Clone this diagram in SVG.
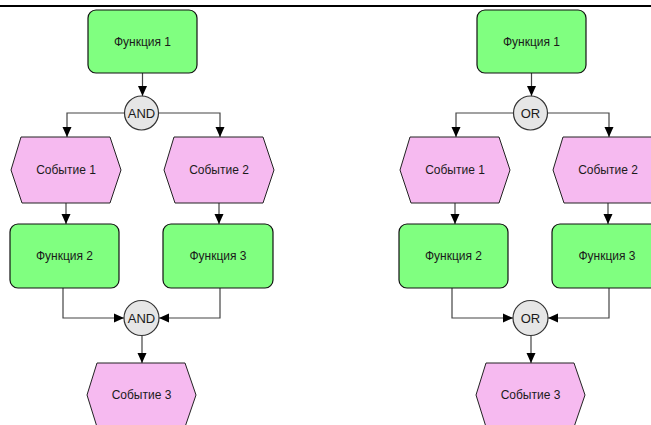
<svg xmlns="http://www.w3.org/2000/svg" width="651" height="425" viewBox="0 0 651 425">
  <style>
    .fn { fill: #80ff80; stroke: #111; stroke-width: 1.2; }
    .ev { fill: #f6baf0; stroke: #222; stroke-width: 1; }
    .gate { fill: #e6e6e6; stroke: #333; stroke-width: 1.2; }
    .lbl { font-family: "Liberation Sans", Arial, sans-serif; font-size: 12px; fill: #1a1a1a; text-anchor: middle; dominant-baseline: central; }
    .gl { font-size: 13px; }
    .cn { fill: none; stroke: #444; stroke-width: 1.2; marker-end: url(#arr); }
  </style>
  <defs>
    <marker id="arr" viewBox="0 0 10 10" refX="10" refY="5" markerWidth="10" markerHeight="10" markerUnits="userSpaceOnUse" orient="auto">
      <path d="M0,0.5 L10,5 L0,9.5 Z" fill="#000"/>
    </marker>
  </defs>
  <rect width="651" height="425" fill="#fff"/>
  <line x1="0" y1="6" x2="651" y2="6" stroke="#000" stroke-width="2"/>

  <!-- AND variant -->
  <g id="and-flow">
    <g id="connectors-and">
      <path class="cn" d="M142.5,73 V96"/>
      <path class="cn" d="M124.5,113 H67 V137"/>
      <path class="cn" d="M158.5,113 H220 V137"/>
      <path class="cn" d="M66,203 V224"/>
      <path class="cn" d="M219,203 V224"/>
      <path class="cn" d="M63,288 V318 H124"/>
      <path class="cn" d="M220,288 V318 H159"/>
      <path class="cn" d="M142,335.5 V363"/>
    </g>
    <g id="and-f1"><rect class="fn" x="88" y="10" width="109" height="63" rx="8"/><text class="lbl" x="142.5" y="42">Функция 1</text></g>
    <g id="and-split"><circle class="gate" cx="141.5" cy="113" r="17"/><text class="lbl gl" x="141.5" y="113">AND</text></g>
    <g id="and-e1"><polygon class="ev" points="21,137 110,137 121,170 110,203 22,203 11,170"/><text class="lbl" x="66" y="170">Событие 1</text></g>
    <g id="and-e2"><polygon class="ev" points="174,137 263,137 274,170 263,203 175,203 164,170"/><text class="lbl" x="219" y="170">Событие 2</text></g>
    <g id="and-f2"><rect class="fn" x="10" y="224" width="109" height="64" rx="8"/><text class="lbl" x="64.5" y="256">Функция 2</text></g>
    <g id="and-f3"><rect class="fn" x="163" y="224" width="110" height="64" rx="8"/><text class="lbl" x="218" y="256">Функция 3</text></g>
    <g id="and-join"><circle class="gate" cx="141.5" cy="318" r="17.5"/><text class="lbl gl" x="141.5" y="318">AND</text></g>
    <g id="and-e3"><polygon class="ev" points="97,363 185,363 196,395 185,427 97,427 87,395"/><text class="lbl" x="141.5" y="395">Событие 3</text></g>
  </g>

  <!-- OR variant -->
  <g id="or-flow" transform="translate(389,0)">
    <g id="connectors-or">
      <path class="cn" d="M142.5,73 V96"/>
      <path class="cn" d="M124.5,113 H67 V137"/>
      <path class="cn" d="M158.5,113 H220 V137"/>
      <path class="cn" d="M66,203 V224"/>
      <path class="cn" d="M219,203 V224"/>
      <path class="cn" d="M63,288 V318 H124"/>
      <path class="cn" d="M220,288 V318 H159"/>
      <path class="cn" d="M142,335.5 V363"/>
    </g>
    <g id="or-f1"><rect class="fn" x="88" y="10" width="109" height="63" rx="8"/><text class="lbl" x="142.5" y="42">Функция 1</text></g>
    <g id="or-split"><circle class="gate" cx="141.5" cy="113" r="17"/><text class="lbl gl" x="141.5" y="113">OR</text></g>
    <g id="or-e1"><polygon class="ev" points="21,137 110,137 121,170 110,203 22,203 11,170"/><text class="lbl" x="66" y="170">Событие 1</text></g>
    <g id="or-e2"><polygon class="ev" points="174,137 263,137 274,170 263,203 175,203 164,170"/><text class="lbl" x="219" y="170">Событие 2</text></g>
    <g id="or-f2"><rect class="fn" x="10" y="224" width="109" height="64" rx="8"/><text class="lbl" x="64.5" y="256">Функция 2</text></g>
    <g id="or-f3"><rect class="fn" x="163" y="224" width="110" height="64" rx="8"/><text class="lbl" x="218" y="256">Функция 3</text></g>
    <g id="or-join"><circle class="gate" cx="141.5" cy="318" r="17.5"/><text class="lbl gl" x="141.5" y="318">OR</text></g>
    <g id="or-e3"><polygon class="ev" points="97,363 185,363 196,395 185,427 97,427 87,395"/><text class="lbl" x="141.5" y="395">Событие 3</text></g>
  </g>
</svg>
